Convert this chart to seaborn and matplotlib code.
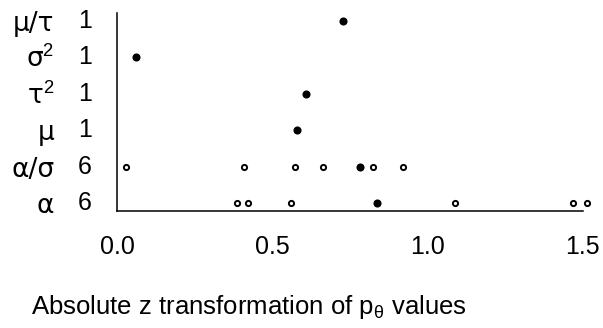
import pandas as pd
import matplotlib
matplotlib.use("Agg")
import matplotlib.pyplot as plt
import matplotlib.transforms as mtransforms
import seaborn as sns

# parameter rows, bottom to top
params = ["α", "α/σ", "μ", "τ$^2$", "σ$^2$", "μ/τ"]
counts = ["6", "6", "1", "1", "1", "1"]

# values, per row
alpha_vals = [0.385, 0.422, 0.561, 0.839, 1.090, 1.470, 1.513]
alpha_fill = [0, 0, 0, 1, 0, 0, 0]
alpha_sig_vals = [0.028, 0.410, 0.572, 0.665, 0.782, 0.823, 0.920]
alpha_sig_fill = [0, 0, 0, 0, 1, 0, 0]
mu_vals = [0.581]
tau2_vals = [0.608]
sigma2_vals = [0.062]
mu_tau_vals = [0.728]

rows = []
for v, f in zip(alpha_vals, alpha_fill):
    rows.append((1, v, f))
for v, f in zip(alpha_sig_vals, alpha_sig_fill):
    rows.append((2, v, f))
for i, vals in enumerate([mu_vals, tau2_vals, sigma2_vals, mu_tau_vals]):
    for v in vals:
        rows.append((3 + i, v, 1))
df = pd.DataFrame(rows, columns=["row", "value", "filled"])

sns.set_theme(style="white")
plt.rcParams["font.family"] = ["Liberation Sans", "DejaVu Sans"]
plt.rcParams["mathtext.fontset"] = "custom"
plt.rcParams["mathtext.rm"] = "Liberation Sans"
plt.rcParams["mathtext.it"] = "Liberation Sans"
plt.rcParams["text.color"] = "black"
plt.rcParams["axes.labelcolor"] = "black"

fig = plt.figure(figsize=(6.03, 3.28), dpi=100)
ax = fig.add_axes([117 / 603, 117 / 328, 475 / 603, 198 / 328])

sns.scatterplot(data=df[df.filled == 1], x="value", y="row", ax=ax,
                color="black", s=34, linewidth=0, zorder=3)
sns.scatterplot(data=df[df.filled == 0], x="value", y="row", ax=ax,
                facecolor="white", edgecolor="black", s=14, linewidth=1.4, zorder=3)

ax.set_xlim(0, 1.53)
ax.set_ylim(0.78, 6.22)
for s in ["top", "right"]:
    ax.spines[s].set_visible(False)
for s in ["left", "bottom"]:
    ax.spines[s].set_linewidth(1.1)
    ax.spines[s].set_color("black")
ax.spines["bottom"].set_bounds(0, 1.5)

ax.set_xticks([0, 0.5, 1.0, 1.5])
ax.set_xticklabels(["0.0", "0.5", "1.0", "1.5"])
ax.tick_params(axis="x", length=9.5, width=1.1, pad=7.5, labelsize=18, colors="black")

ax.set_yticks(range(1, 7))
ax.set_yticklabels(params, fontfamily="DejaVu Sans", fontsize=19)
ax.tick_params(axis="y", length=0, pad=45, colors="black")

trans = mtransforms.blended_transform_factory(ax.transAxes, ax.transData)
for r, c in zip(range(1, 7), counts):
    ax.text(-32 / 475, r, c, transform=trans, ha="center", va="center", fontsize=18)

ax.set_xlabel(r"Absolute z transformation of p$_\theta$ values", fontsize=18.5)
ax.xaxis.label.set_verticalalignment("center")
ax.set_ylabel("")
# label centre sits at about 307 px from the top
ax.xaxis.set_label_coords((249 - 117) / 475, -(307 - 211) / 198)

fig.savefig("out.png", dpi=100)
